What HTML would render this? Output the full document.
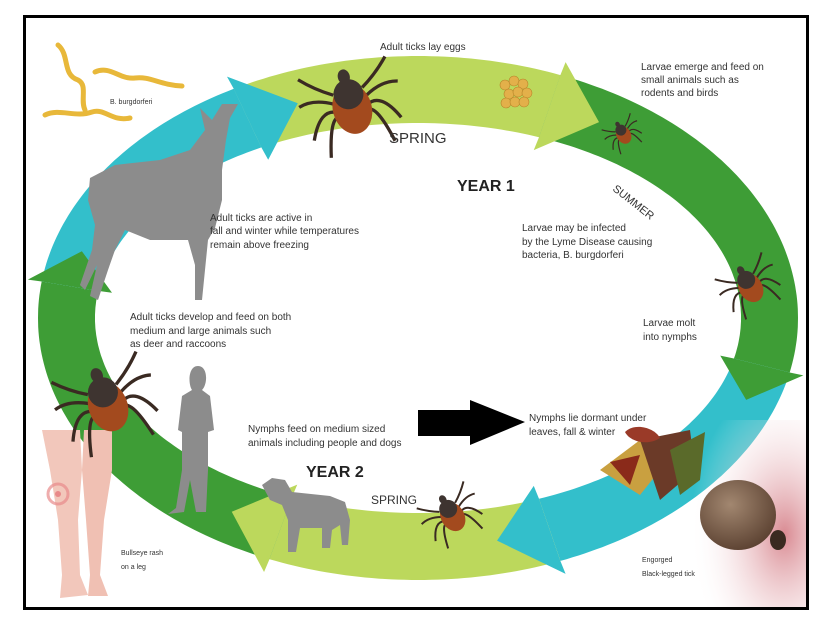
<!DOCTYPE html>
<html><head><meta charset="utf-8"><style>
html,body{margin:0;padding:0;background:#fff;}
svg{display:block;font-family:"Liberation Sans",Arial,sans-serif;}
</style></head><body>
<svg id="s" width="820" height="621" viewBox="0 0 820 621" xmlns="http://www.w3.org/2000/svg">
<rect x="0" y="0" width="820" height="621" fill="#fff"/>
<g id="ring"></g>
<g fill="none" stroke="#e8b83a" stroke-width="5" stroke-linecap="round">
<path d="M58,45 C70,55 62,75 78,80 C88,85 80,100 85,110"/>
<path d="M95,72 C110,65 120,80 135,78 C150,76 160,85 182,86"/>
<path d="M45,115 C60,108 75,118 92,112 C105,108 112,122 130,118"/>
</g>
<g fill="#e3b04a" stroke="#b8862a" stroke-width="0.6">
<circle cx="505" cy="85" r="5"/><circle cx="514" cy="81" r="5"/><circle cx="523" cy="84" r="5"/><circle cx="509" cy="94" r="5"/><circle cx="518" cy="92" r="5"/><circle cx="527" cy="93" r="5"/><circle cx="506" cy="103" r="5"/><circle cx="515" cy="102" r="5"/><circle cx="524" cy="102" r="5"/>
</g>
<path fill="#8c8c8c" d="M200,108 L212,120 L222,104 L238,104 L230,118 L226,140 L222,170 L222,200 L215,228 L208,240 L205,270 L202,300 L195,300 L195,265 L188,240 L150,240 L125,230 L115,250 L108,270 L98,300 L90,296 L97,265 L85,290 L80,285 L92,250 L95,225 L88,200 L90,178 L115,165 L160,160 L190,150 L205,130 Z"/>
<path fill="#8c8c8c" d="M198,366 C188,366 188,384 192,390 L182,396 L178,430 L182,432 L182,470 L176,508 L168,514 L184,512 L190,480 L196,512 L206,512 L208,470 L208,432 L214,430 L210,396 L202,390 C208,384 208,366 198,366 Z"/>
<path fill="#8c8c8c" d="M262,485 L272,478 L285,480 L292,492 L330,496 L345,502 L350,520 L348,545 L342,545 L340,525 L332,530 L330,548 L322,548 L322,528 L300,528 L296,552 L288,552 L288,520 L282,505 L270,500 Z"/>
<g>
<path fill="#f2c7bb" d="M42,430 L80,430 L82,470 L78,520 L80,575 L88,595 L60,598 L62,575 L58,520 L50,470 Z"/>
<path fill="#f0c0b3" d="M84,430 L112,430 L112,470 L104,520 L100,575 L108,596 L88,596 L90,575 L86,520 L82,470 Z"/>
<circle cx="58" cy="494" r="10" fill="none" stroke="#e88a8a" stroke-width="3" opacity="0.7"/>
<circle cx="58" cy="494" r="3" fill="#e88a8a"/>
</g>
<defs><radialGradient id="sk" cx="0.8" cy="0.6" r="0.8"><stop offset="0" stop-color="#d98a92"/><stop offset="1" stop-color="#fff" stop-opacity="0"/></radialGradient>
<radialGradient id="tk" cx="0.4" cy="0.35" r="0.7"><stop offset="0" stop-color="#a28770"/><stop offset="1" stop-color="#5a4030"/></radialGradient></defs>
<rect x="690" y="420" width="118" height="190" fill="url(#sk)"/>
<ellipse cx="738" cy="515" rx="38" ry="35" fill="url(#tk)"/>
<ellipse cx="778" cy="540" rx="8" ry="10" fill="#3a2a20"/>
<g>
<path d="M600,470 L640,440 L660,470 L640,495 Z" fill="#c9a040"/>
<path d="M640,440 L690,430 L695,470 L660,500 Z" fill="#6b3a28"/>
<path d="M670,450 L705,432 L700,480 L680,495 Z" fill="#5a6a2a"/>
<path d="M625,432 C635,422 655,428 660,438 C648,446 630,442 625,432 Z" fill="#9a3a28"/>
<path d="M610,462 L640,455 L630,485 Z" fill="#8a2a1a"/>
</g>
<g id="ticks"></g>
<path fill="#000" d="M418,410 L470,410 L470,400 L525,422 L470,445 L470,436 L418,436 Z"/>
<g fill="#333" font-size="10">
<text x="380" y="50">Adult ticks lay eggs</text>
<text x="641" y="70">Larvae emerge and feed on</text>
<text x="641" y="83">small animals such as</text>
<text x="641" y="96">rodents and birds</text>
<text x="210" y="221">Adult ticks are active in</text>
<text x="210" y="234">fall and winter while temperatures</text>
<text x="210" y="248">remain above freezing</text>
<text x="522" y="231">Larvae may be infected</text>
<text x="522" y="245">by the Lyme Disease causing</text>
<text x="522" y="258">bacteria, B. burgdorferi</text>
<text x="130" y="320">Adult ticks develop and feed on both</text>
<text x="130" y="334">medium and large animals such</text>
<text x="130" y="347">as deer and raccoons</text>
<text x="643" y="326">Larvae molt</text>
<text x="643" y="340">into nymphs</text>
<text x="248" y="432">Nymphs feed on medium sized</text>
<text x="248" y="446">animals including people and dogs</text>
<text x="529" y="421">Nymphs lie dormant under</text>
<text x="529" y="435">leaves, fall &amp; winter</text>
</g>
<g fill="#333" font-size="7">
<text x="110" y="104">B. burgdorferi</text>
<text x="121" y="555">Bullseye rash</text>
<text x="121" y="569">on a leg</text>
<text x="642" y="562">Engorged</text>
<text x="642" y="576">Black-legged tick</text>
</g>
<text x="389" y="143" font-size="15" fill="#333">SPRING</text>
<text x="371" y="504" font-size="12" fill="#333">SPRING</text>
<text x="457" y="191" font-size="16" font-weight="bold" fill="#222">YEAR 1</text>
<text x="306" y="477" font-size="16" font-weight="bold" fill="#222">YEAR 2</text>
<text x="612" y="190" font-size="11" fill="#333" transform="rotate(38 612 190)">SUMMER</text>
<rect x="24.5" y="16.5" width="783" height="592" fill="none" stroke="#000" stroke-width="3"/>
</svg>
<script>
(function(){
var cx=418,cy=318,ro=[380,262],ri=[323,195],rm=[(380+323)/2,(262+195)/2];
function P(r,t,off){off=off||0;var a=t*Math.PI/180;return [cx+(r[0]+off)*Math.cos(a),cy+(r[1]+off)*Math.sin(a)];}
var segs=[[-59,"#bcd85c"],[21,"#3e9d36"],[77,"#33bfcb"],[122,"#bcd85c"],[197,"#3e9d36"],[250,"#33bfcb"]];
var H=9,g=document.getElementById("ring"),bodies="",heads="";
for(var i=0;i<segs.length;i++){
 var tip=segs[i][0],col=segs[i][1];
 var prev=segs[(i+segs.length-1)%segs.length][0];
 if(prev>tip)prev-=360;
 var s=prev-H,e=tip-H,d="";
 for(var t=s;t<=e+0.001;t+=1){var p=P(ro,t);d+=(d?"L":"M")+p[0].toFixed(1)+","+p[1].toFixed(1);}
 for(var t=e;t>=s-0.001;t-=1){var p=P(ri,t);d+="L"+p[0].toFixed(1)+","+p[1].toFixed(1);}
 d+="Z";
 bodies+='<path d="'+d+'" fill="'+col+'"/>';
 var a=P(ro,e,14),b=P(ri,e,-14),c=P(rm,tip),o1=P(ro,e),i1=P(ri,e);
 heads+='<path d="M'+o1+' L'+a+' L'+c+' L'+b+' L'+i1+' Z" fill="'+col+'"/>';
}
g.innerHTML=bodies+heads;
function tick(x,y,s,rot){
 var h='<g transform="translate('+x+','+y+') rotate('+rot+') scale('+s+')">';
 var legs=[[-10,-6,-30,-22],[-11,0,-34,-4],[-10,6,-30,20],[-8,10,-22,34],[10,-6,30,-22],[11,0,34,-4],[10,6,30,20],[8,10,22,34]];
 legs.forEach(function(l){h+='<path d="M'+l[0]+','+l[1]+' Q'+(l[2]*0.7)+','+(l[3]*0.3-6)+' '+l[2]+','+l[3]+'" fill="none" stroke="#3a2a22" stroke-width="2.2"/>';});
 h+='<ellipse cx="0" cy="6" rx="13" ry="17" fill="#a34a1e"/><ellipse cx="0" cy="-4" rx="10" ry="10" fill="#3e3430"/><ellipse cx="0" cy="-16" rx="4" ry="5" fill="#3e3430"/></g>';
 return h;
}
document.getElementById("ticks").innerHTML=
 tick(350,100,1.5,-15)+tick(105,398,1.5,-20)+tick(748,283,0.9,-30)+tick(450,512,0.9,-30)+tick(622,132,0.55,-30);
})();
</script>
</body></html>
